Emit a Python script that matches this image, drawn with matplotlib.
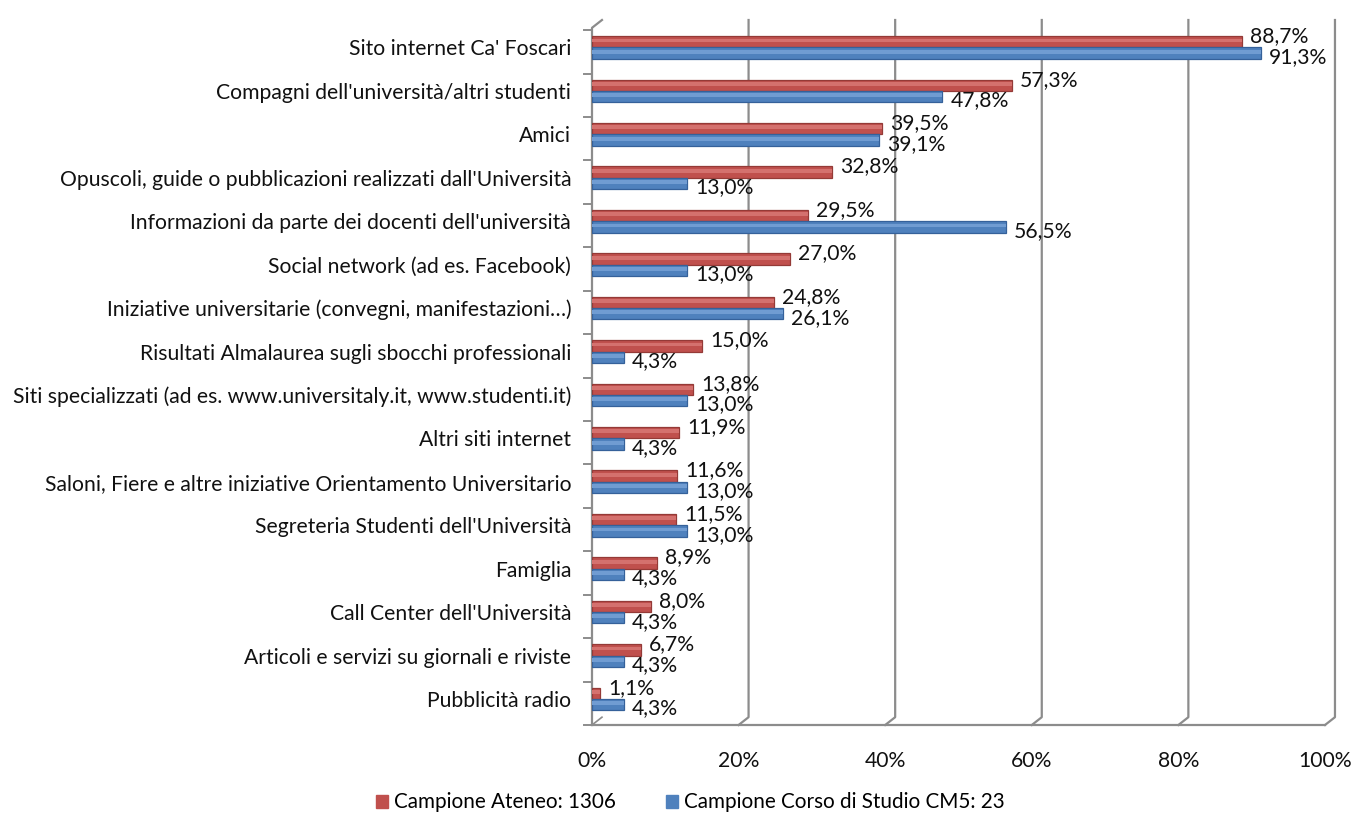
import matplotlib
matplotlib.use('Agg')
import matplotlib.pyplot as plt
from matplotlib.patches import Patch
import numpy as np

plt.rcParams['font.family'] = ['Lato', 'DejaVu Sans']

# data
categories = [
    "Sito internet Ca' Foscari",
    "Compagni dell'università/altri studenti",
    "Amici",
    "Opuscoli, guide o pubblicazioni realizzati dall'Università",
    "Informazioni da parte dei docenti dell'università",
    "Social network (ad es. Facebook)",
    "Iniziative universitarie (convegni, manifestazioni…)",
    "Risultati Almalaurea sugli sbocchi professionali",
    "Siti specializzati (ad es. www.universitaly.it, www.studenti.it)",
    "Altri siti internet",
    "Saloni, Fiere e altre iniziative Orientamento Universitario",
    "Segreteria Studenti dell'Università",
    "Famiglia",
    "Call Center dell'Università",
    "Articoli e servizi su giornali e riviste",
    "Pubblicità radio",
]
ateneo = [88.7, 57.3, 39.5, 32.8, 29.5, 27.0, 24.8, 15.0, 13.8, 11.9, 11.6, 11.5, 8.9, 8.0, 6.7, 1.1]
corso = [91.3, 47.8, 39.1, 13.0, 56.5, 13.0, 26.1, 4.3, 13.0, 4.3, 13.0, 13.0, 4.3, 4.3, 4.3, 4.3]
xticks = [0, 20, 40, 60, 80, 100]
legend_labels = ["Campione Ateneo: 1306", "Campione Corso di Studio CM5: 23"]

red = '#C0504D'
red_dark = '#943A37'
red_light = '#D4716E'
blue = '#4F81BD'
blue_dark = '#35619A'
blue_light = '#709CD2'
grid_col = '#8C8C8C'
txt = '#111111'
fs = 15.2

fig = plt.figure(figsize=(13.51, 8.14), dpi=100)
ax = fig.add_axes([592 / 1351, 1 - 725 / 814, 733 / 1351, 705 / 814])

y = np.arange(len(categories))
h = 0.26
ybot, ytop = 15.6, -0.633
ax.set_xlim(0, 100)
ax.set_ylim(ybot, ytop)

# 3D-ish gridlines (back wall shifted)
dx, dy = 1.36, 0.18
for t in xticks[1:]:
    ax.plot([t, t + dx, t + dx], [ybot, ybot - dy, ytop], color=grid_col, lw=1.6,
            clip_on=False, zorder=1)
# left wall
ax.plot([0, 0, dx], [ybot, ytop + dy, ytop], color=grid_col, lw=1.6, clip_on=False, zorder=1)
ax.plot([0, 100], [ybot, ybot], color=grid_col, lw=1.6, clip_on=False, zorder=1)
ax.plot([0, dx], [ybot, ybot - dy], color=grid_col, lw=1.2, clip_on=False, zorder=1)
# category tick marks on the left
for b in np.arange(-0.5, len(categories) + 0.5):
    ax.plot([-1.1, 0], [b + 0.1, b + 0.1], color=grid_col, lw=1.4, clip_on=False, zorder=1)

# bars (cylinder look: base + soft highlight)
ax.barh(y - h / 2, ateneo, height=h, color=red, edgecolor=red_dark, lw=0.9, zorder=3)
ax.barh(y - h / 2 - h * 0.12, ateneo, height=h * 0.35, color=red_light, lw=0, zorder=4)
ax.barh(y + h / 2, corso, height=h, color=blue, edgecolor=blue_dark, lw=0.9, zorder=3)
ax.barh(y + h / 2 - h * 0.12, corso, height=h * 0.35, color=blue_light, lw=0, zorder=4)

def fmt(v):
    return f"{v:.1f}%".replace('.', ',')

for i in range(len(categories)):
    ax.text(ateneo[i] + 1.1, y[i] - 0.26, fmt(ateneo[i]), va='center', ha='left',
            fontsize=fs, color=txt, zorder=5)
    ax.text(corso[i] + 1.1, y[i] + 0.22, fmt(corso[i]), va='center', ha='left',
            fontsize=fs, color=txt, zorder=5)

ax.set_yticks(y)
ax.set_yticklabels(categories, fontsize=fs, color=txt)
ax.set_xticks(xticks)
ax.set_xticklabels([f"{t}%" for t in xticks], fontsize=fs, color=txt)
ax.tick_params(axis='y', length=0, pad=15)
ax.tick_params(axis='x', length=0, pad=19)
for s in ax.spines.values():
    s.set_visible(False)

handles = [Patch(facecolor=red, edgecolor=red), Patch(facecolor=blue, edgecolor=blue)]
fig.legend(handles, legend_labels, loc='lower center', bbox_to_anchor=(0.511, -0.021), ncol=2,
           frameon=False, fontsize=14.9, handlelength=0.6, handleheight=0.6,
           handletextpad=0.3, columnspacing=2.4)

fig.savefig('out.png', dpi=100)
